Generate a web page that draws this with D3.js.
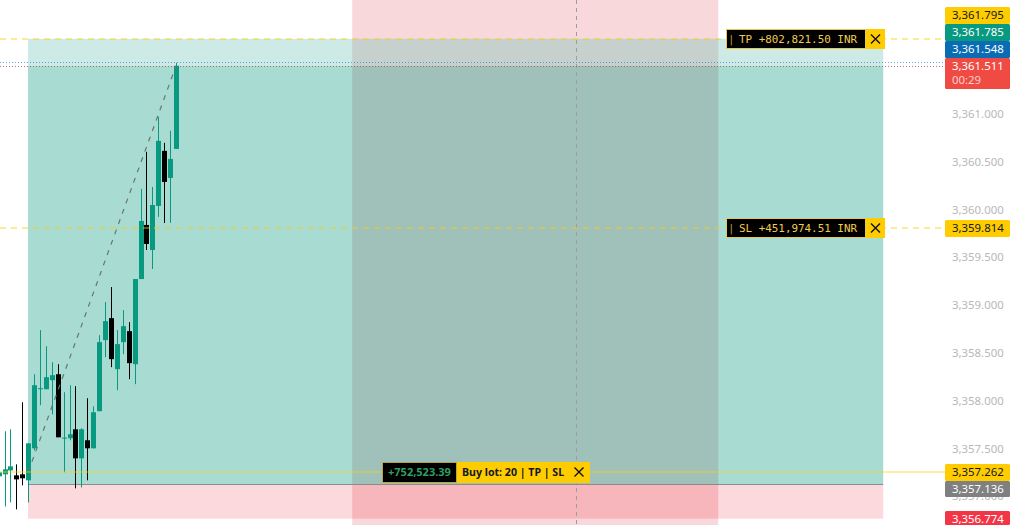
<!DOCTYPE html>
<html>
<head>
<meta charset="utf-8">
<script src="https://d3js.org/d3.v7.min.js"></script>
<style>
html, body { margin: 0; padding: 0; background: #fff; overflow: hidden; }
svg { display: block; }
</style>
</head>
<body>
<div id="chart"></div>
<script>
// candles, oldest first
var opens = [3357.207,3357.228,3357.269,3357.217,3357.228,3357.165,3357.500,3358.118,3358.118,3358.213,3358.275,3357.605,3357.605,3357.699,3357.395,3357.584,3357.500,3357.888,3358.632,3358.862,3358.328,3358.611,3358.726,3358.380,3359.271,3359.837,3359.575,3360.036,3360.612,3360.329,3360.633];
var highs = [3357.249,3357.678,3357.699,3357.332,3357.982,3357.552,3358.275,3358.737,3358.569,3358.401,3358.380,3358.087,3358.160,3358.150,3357.710,3358.024,3357.940,3358.684,3359.030,3359.187,3358.737,3358.946,3358.820,3359.271,3360.214,3360.602,3360.235,3360.969,3360.696,3360.822,3361.534];
var lows = [3356.746,3356.892,3356.934,3356.861,3357.112,3356.934,3357.479,3357.951,3358.118,3357.856,3357.615,3357.249,3357.584,3357.081,3357.091,3357.165,3357.500,3357.888,3358.454,3358.349,3358.108,3358.485,3358.223,3358.171,3359.271,3359.575,3359.376,3359.921,3359.858,3359.858,3360.633];
var closes = [3357.249,3357.280,3357.311,3357.175,3357.186,3357.552,3358.160,3358.129,3358.244,3358.265,3357.615,3357.612,3357.647,3357.395,3357.699,3357.500,3357.877,3358.611,3358.831,3358.433,3358.590,3358.778,3358.391,3359.271,3359.879,3359.638,3360.046,3360.717,3360.287,3360.528,3361.503];

var axisTicks = [3361, 3360.5, 3360, 3359.5, 3359, 3358.5, 3358, 3357.5, 3357];

var takeProfit = 3361.795, stopLoss = 3359.814, entry = 3357.262;
var ask = 3361.548, bid = 3361.511, be = 3357.136, lower = 3356.774, tpMark = 3361.785;

var W = 1016, H = 525, axisX = 945;

var x = d3.scaleLinear().domain([0, 30]).range([-1.4, 176]);
var y = d3.scaleLinear().domain([3361, 3357.5]).range([114.8, 449.3]);

var fmt = d3.format(",.3f");
var priceFont = "'Noto Sans', sans-serif";
var monoFont = "'DejaVu Sans Mono', monospace";

var svg = d3.select("#chart").append("svg").attr("width", W).attr("height", H);

// zones, in bar index
var zoneL = 4.98, zoneR = 149.6, bandL = 59.8, bandR = 121.7, crossX = 97.7;

function rect(x0, x1, y0, y1, fill) {
	return svg.append("rect").attr("x", x0).attr("width", x1 - x0)
		.attr("y", y0).attr("height", y1 - y0).attr("fill", fill);
}

rect(x(bandL), x(bandR), 0, H, "#f8d8db");
rect(x(zoneL), x(zoneR), y(takeProfit), y(bid), "#cdeae6");
rect(x(zoneL), x(zoneR), y(bid), y(be), "#a8dbd2");
rect(x(zoneL), x(zoneR), y(be), y(lower), "#fcd9dc");
rect(x(bandL), x(bandR), y(takeProfit), y(bid), "#c6d0cc");
rect(x(bandL), x(bandR), y(bid), y(be), "#a0c1b9");
rect(x(bandL), x(bandR), y(be), y(lower), "#f7b6bc");

// crosshair
svg.append("line").attr("x1", Math.round(x(crossX)) + 0.5).attr("x2", Math.round(x(crossX)) + 0.5).attr("y1", 0).attr("y2", H)
	.attr("stroke", "#9a9ea3").attr("stroke-dasharray", "4,4");

// price line of the position bottom
svg.append("line").attr("x1", x(zoneL)).attr("x2", x(zoneR)).attr("y1", Math.round(y(be)) + 0.5).attr("y2", Math.round(y(be)) + 0.5)
	.attr("stroke", "#8b8b8b");

// candles, read a pixel higher than the level scale
var candles = svg.append("g").attr("transform", "translate(0,-1)")
	.selectAll("g").data(opens).enter().append("g");
function col(d, i) { return closes[i] >= opens[i] ? "#089981" : "#000"; }
candles.append("line")
	.attr("x1", function(d, i) { return Math.round(x(i)) + 0.5; })
	.attr("x2", function(d, i) { return Math.round(x(i)) + 0.5; })
	.attr("y1", function(d, i) { return y(highs[i]); })
	.attr("y2", function(d, i) { return y(lows[i]); })
	.attr("stroke", col);
candles.append("rect")
	.attr("x", function(d, i) { return Math.round(x(i)) - 2; })
	.attr("width", 5)
	.attr("y", function(d, i) { return y(Math.max(opens[i], closes[i])); })
	.attr("height", function(d, i) { return Math.max(1, Math.abs(y(opens[i]) - y(closes[i]))); })
	.attr("fill", col);

// trend line from entry to last price
svg.append("line").attr("x1", x(5)).attr("y1", y(entry)).attr("x2", x(30)).attr("y2", y(bid))
	.attr("stroke", "#6b7573").attr("stroke-width", 1.2).attr("stroke-dasharray", "5,6");

// horizontal levels
svg.append("line").attr("x1", 0).attr("x2", axisX).attr("y1", Math.round(y(ask)) + 0.5).attr("y2", Math.round(y(ask)) + 0.5)
	.attr("stroke", "#2a7fb8").attr("stroke-opacity", 0.7).attr("stroke-dasharray", "1,2");
svg.append("line").attr("x1", 0).attr("x2", axisX).attr("y1", Math.round(y(bid)) + 0.5).attr("y2", Math.round(y(bid)) + 0.5)
	.attr("stroke", "#a9544c").attr("stroke-opacity", 0.8).attr("stroke-dasharray", "1,2");
[takeProfit, stopLoss].forEach(function(p) {
	svg.append("line").attr("x1", 0).attr("x2", axisX).attr("y1", Math.round(y(p))).attr("y2", Math.round(y(p)))
		.attr("stroke", "#ffcc00").attr("stroke-opacity", 0.42).attr("stroke-width", 2)
		.attr("stroke-dasharray", "6,5");
});
svg.append("line").attr("x1", 0).attr("x2", axisX).attr("y1", Math.round(y(entry))).attr("y2", Math.round(y(entry)))
	.attr("stroke", "#ffd400").attr("stroke-opacity", 0.36).attr("stroke-width", 2);

// axis ticks
svg.append("g").selectAll("text").data(axisTicks).enter().append("text")
	.attr("x", 952).attr("y", function(d) { return y(d) - 0.8; })
	.attr("dy", "0.36em").attr("font-family", priceFont).attr("font-size", 11.4)
	.attr("fill", "#b8b8b8").text(fmt);

// price tags
var topTags = [
	{ p: takeProfit, fill: "#ffcc00", color: "#131722" },
	{ p: tpMark, fill: "#089981", color: "#fff" },
	{ p: ask, fill: "#0a6cb4", color: "#fff" }
];
function tag(top, h, fill, color, text) {
	rect(axisX, 1010, top, top + h, fill).attr("rx", 1.5);
	svg.append("text").attr("x", 952).attr("y", top + 8.2).attr("dy", "0.36em")
		.attr("font-family", priceFont).attr("font-size", 11.4).attr("fill", color).text(text);
}
var bidTop = Math.round(y(bid)) - 8;
topTags.forEach(function(t, i) {
	tag(bidTop - (3 - i) * 17, 17, t.fill, t.color, fmt(t.p));
});
tag(bidTop, 31, "#ef4b43", "#fff", fmt(bid));
svg.append("text").attr("x", 952).attr("y", bidTop + 22).attr("dy", "0.36em")
	.attr("font-family", priceFont).attr("font-size", 11.4).attr("fill", "#fbd0cd").text("00:29");
tag(Math.round(y(stopLoss)) - 8, 17, "#ffcc00", "#131722", fmt(stopLoss));
tag(Math.round(y(entry)) - 8, 17, "#ffcc00", "#131722", fmt(entry));
tag(Math.round(y(entry)) + 9, 16, "#808080", "#fff", fmt(be));
tag(Math.round(y(lower)) - 8, 14, "#f23645", "#fff", fmt(lower));

// TP / SL order labels
function orderLabel(p, name) {
	var cy = Math.round(y(p)) - 0.5;
	svg.append("rect").attr("x", 726.5).attr("y", cy - 9).attr("width", 139).attr("height", 19)
		.attr("fill", "#000").attr("stroke", "#e8c84a");
	var t = svg.append("text").attr("y", cy + 0.5).attr("dy", "0.36em")
		.attr("font-family", monoFont).attr("font-size", 10.9).attr("fill", "#f0cc50");
	t.append("tspan").attr("x", 728).attr("fill", "#b8982e").text("|");
	t.append("tspan").attr("x", 739).text(name);
	rect(866, 885, cy - 9.5, cy + 10.5, "#ffcc00");
	closeIcon(875.5, cy + 0.5);
}
function closeIcon(cx, cy) {
	svg.append("path").attr("d", "M" + (cx - 4.5) + "," + (cy - 4.5) + "L" + (cx + 4.5) + "," + (cy + 4.5)
		+ "M" + (cx + 4.5) + "," + (cy - 4.5) + "L" + (cx - 4.5) + "," + (cy + 4.5))
		.attr("stroke", "#111").attr("stroke-width", 1.4).attr("fill", "none");
}
orderLabel(takeProfit, "TP +802,821.50 INR");
orderLabel(stopLoss, "SL +451,974.51 INR");

// entry label
var ey = Math.round(y(entry));
rect(457, 590, ey - 10, ey + 11, "#ffcc00");
svg.append("rect").attr("x", 382.5).attr("y", ey - 9.5).attr("width", 74).attr("height", 20)
	.attr("fill", "#000").attr("stroke", "#b9a53c");
svg.append("text").attr("x", 388).attr("y", ey).attr("dy", "0.36em")
	.attr("font-family", priceFont).attr("font-size", 11).attr("font-weight", "bold").attr("fill", "#2e9e63").text("+752,523.39");
svg.append("text").attr("x", 462).attr("y", ey).attr("dy", "0.36em")
	.attr("font-family", priceFont).attr("font-size", 10.6).attr("font-weight", "bold").attr("fill", "#131722").text("Buy lot: 20 | TP | SL");
closeIcon(579, ey);
</script>
</body>
</html>
